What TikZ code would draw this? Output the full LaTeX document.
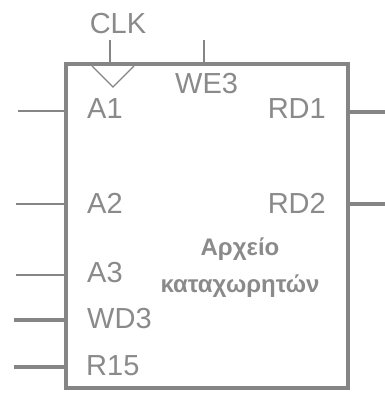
\documentclass[tikz,border=0pt]{standalone}
\usepackage{fontspec}
\setmainfont{Liberation Sans}
\definecolor{wire}{HTML}{858585}
\definecolor{txt}{HTML}{8A8A8A}
\begin{document}
\begin{tikzpicture}[x=1pt,y=-1pt,
  thinw/.style={draw=wire,line width=1.4pt},
  thickw/.style={draw=wire,line width=3.5pt},
  lbl/.style={text=txt,font=\fontsize{29}{29}\selectfont,inner sep=0pt},
  title/.style={text=txt,font=\fontsize{24}{24}\selectfont\bfseries,inner sep=0pt}]
\useasboundingbox (0,0) rectangle (385,394);
\node[draw=wire,line width=3.5pt,minimum width=282pt,minimum height=324pt,inner sep=0pt] (rf) at (207,226) {};
% coordinates for wire ends
\coordinate (a1o) at (18,111);  \coordinate (a1i) at (66,111);
\coordinate (a2o) at (16,204);  \coordinate (a2i) at (66,204);
\coordinate (a3o) at (16,275);  \coordinate (a3i) at (66,275);
\coordinate (wdo) at (14,320);  \coordinate (wdi) at (66,320);
\coordinate (r15o) at (14,367); \coordinate (r15i) at (66,367);
\coordinate (rd1i) at (348,112); \coordinate (rd1o) at (385,112);
\coordinate (rd2i) at (348,204); \coordinate (rd2o) at (385,204);
\coordinate (clko) at (110,40); \coordinate (clki) at (110,64);
\coordinate (weo) at (204,40);  \coordinate (wei) at (204,64);
\draw[thinw] (a1o) -- (a1i);
\draw[thinw] (a2o) -- (a2i);
\draw[thinw] (a3o) -- (a3i);
\draw[thickw] (wdo) -- (wdi);
\draw[thickw] (r15o) -- (r15i);
\draw[thickw] (rd1i) -- (rd1o);
\draw[thickw] (rd2i) -- (rd2o);
\draw[thinw] (clko) -- (clki);
\draw[thinw] (weo) -- (wei);
\coordinate (t1) at (92,66); \coordinate (t2) at (113,87); \coordinate (t3) at (134,66);
\draw[thinw] (t1) -- (t2) -- (t3);
% labels
\node[lbl,anchor=base] (clk) at (118,33) {CLK};
\node[lbl,anchor=base west] (we3) at (175,93) {WE3};
\node[lbl,anchor=base west] (la1) at (87,118) {A1};
\node[lbl,anchor=base east] (lrd1) at (326,118) {RD1};
\node[lbl,anchor=base west] (la2) at (87,213) {A2};
\node[lbl,anchor=base east] (lrd2) at (326,213) {RD2};
\node[lbl,anchor=base west] (la3) at (87,282) {A3};
\node[lbl,anchor=base west] (lwd3) at (87,328) {WD3};
\node[lbl,anchor=base west] (lr15) at (86,375) {R15};
\node[title,anchor=base] (tt1) at (240,255) {Αρχείο};
\node[title,anchor=base] (tt2) at (240,292) {καταχωρητών};
\end{tikzpicture}
\end{document}
